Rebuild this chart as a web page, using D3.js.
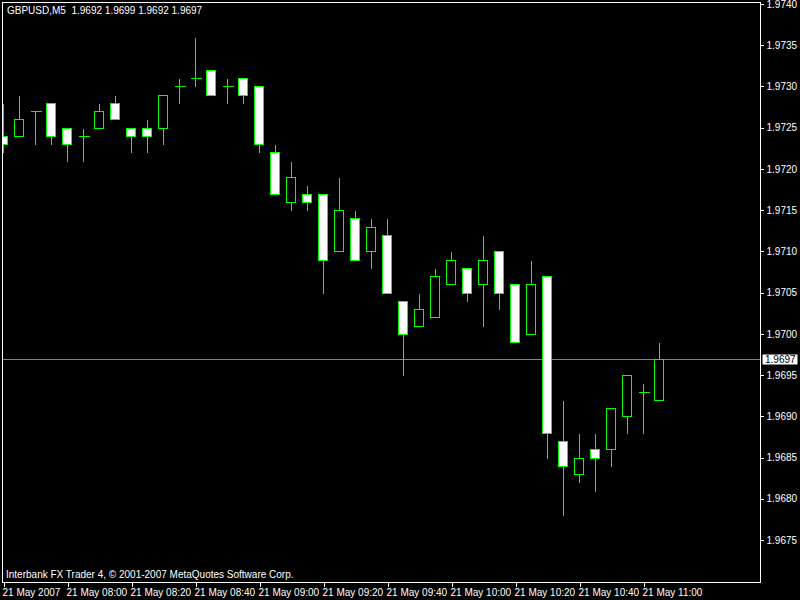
<!DOCTYPE html>
<html lang="en">
<head>
    <meta charset="UTF-8">
    <title>GBPUSD,M5</title>
    <script src="https://d3js.org/d3.v7.min.js"></script>
</head>
<style type="text/css">
    body { margin: 0; background: #000; }
    svg { display: block; }
    text { font-family: "Liberation Sans", Arial, sans-serif; font-size: 10px; fill: #fff; }
    .axis path.domain { display: none; }
    .axis line { stroke: #fff; shape-rendering: crispEdges; }
    .wick { stroke: #00ff00; stroke-width: 1; shape-rendering: crispEdges; }
    .body { stroke: #00ff00; stroke-width: 1; shape-rendering: crispEdges; }
</style>
<body>
<script>

    // 1. Data: 5 minute bars, 07:40 .. 11:05
    var opens  = [1.9724, 1.9724, 1.9727, 1.9728, 1.9725, 1.9724, 1.9725, 1.9728, 1.9725, 1.9725,
                  1.9725, 1.9730, 1.9731, 1.9732, 1.9730, 1.9731, 1.9730, 1.9722, 1.9716, 1.9717,
                  1.9717, 1.9710, 1.9714, 1.9710, 1.9712, 1.9704, 1.9701, 1.9702, 1.9706, 1.9708,
                  1.9706, 1.9710, 1.9706, 1.9700, 1.9707, 1.9687, 1.9683, 1.9686, 1.9686, 1.9690,
                  1.9693, 1.9692];
    var highs  = [1.9728, 1.9729, 1.9727, 1.9728, 1.9725, 1.9725, 1.9728, 1.9729, 1.9725, 1.9726,
                  1.9729, 1.9731, 1.9736, 1.9732, 1.9731, 1.9731, 1.9730, 1.9723, 1.9721, 1.9718,
                  1.9717, 1.9719, 1.9715, 1.9714, 1.9714, 1.9704, 1.9705, 1.9708, 1.9710, 1.9708,
                  1.9712, 1.9710, 1.9706, 1.9709, 1.9707, 1.9692, 1.9688, 1.9688, 1.9691, 1.9695,
                  1.9694, 1.9699];
    var lows   = [1.9722, 1.9724, 1.9723, 1.9723, 1.9721, 1.9721, 1.9725, 1.9726, 1.9722, 1.9722,
                  1.9723, 1.9728, 1.9730, 1.9729, 1.9728, 1.9728, 1.9722, 1.9717, 1.9715, 1.9715,
                  1.9705, 1.9710, 1.9709, 1.9708, 1.9705, 1.9695, 1.9701, 1.9702, 1.9706, 1.9704,
                  1.9701, 1.9703, 1.9699, 1.9700, 1.9685, 1.9678, 1.9682, 1.9681, 1.9684, 1.9688,
                  1.9688, 1.9692];
    var closes = [1.9723, 1.9726, 1.9727, 1.9724, 1.9723, 1.9724, 1.9727, 1.9726, 1.9724, 1.9724,
                  1.9729, 1.9730, 1.9731, 1.9729, 1.9730, 1.9729, 1.9723, 1.9717, 1.9719, 1.9716,
                  1.9709, 1.9715, 1.9709, 1.9713, 1.9705, 1.9700, 1.9703, 1.9707, 1.9709, 1.9705,
                  1.9709, 1.9705, 1.9699, 1.9706, 1.9688, 1.9684, 1.9685, 1.9685, 1.9691, 1.9695,
                  1.9693, 1.9697];

    // tick labels every 4 bars (20 min)
    var timeTicks  = [0, 4, 8, 12, 16, 20, 24, 28, 32, 36, 40];
    var timeLabels = ["21 May 2007", "21 May 08:00", "21 May 08:20", "21 May 08:40", "21 May 09:00",
                      "21 May 09:20", "21 May 09:40", "21 May 10:00", "21 May 10:20", "21 May 10:40",
                      "21 May 11:00"];
    var priceTicks = [1.9675, 1.9680, 1.9685, 1.9690, 1.9695, 1.9700, 1.9705, 1.9710,
                      1.9715, 1.9720, 1.9725, 1.9730, 1.9735, 1.9740];
    var bid = 1.9697;
    var title = "GBPUSD,M5  1.9692 1.9699 1.9692 1.9697";
    var footer = "Interbank FX Trader 4, \u00a9 2001-2007 MetaQuotes Software Corp.";

    var bars = opens.map(function(o, i) {
        return { i: i, o: o, h: highs[i], l: lows[i], c: closes[i] };
    });

    // 2. Layout
    var width = 800, height = 600;
    var plot = { left: 2.5, top: 2.5, right: 760.5, bottom: 582.5 };

    var svg = d3.select("body").append("svg")
        .attr("width", width)
        .attr("height", height);

    svg.append("rect")
        .attr("width", width).attr("height", height)
        .attr("fill", "#000");

    // 3. Scales
    var xScale = d3.scaleLinear()
        .domain([0, 41])
        .range([3.5, 659.5]);

    var yScale = d3.scaleLinear()
        .domain([1.9675, 1.9740])
        .range([540, 4]);

    function py(v) { return Math.round(yScale(v)) + 0.5; }

    svg.append("clipPath").attr("id", "clip")
      .append("rect")
        .attr("x", plot.left + 0.5).attr("y", plot.top + 0.5)
        .attr("width", plot.right - plot.left - 1)
        .attr("height", plot.bottom - plot.top - 1);

    var chart = svg.append("g").attr("clip-path", "url(#clip)");

    // 4. Bid line
    chart.append("line")
        .attr("x1", plot.left).attr("x2", plot.right)
        .attr("y1", py(bid)).attr("y2", py(bid))
        .attr("stroke", "#778899")
        .attr("shape-rendering", "crispEdges");

    // 5. Candles
    var candle = chart.selectAll(".candle")
        .data(bars)
      .enter().append("g")
        .attr("class", "candle");

    candle.append("line")
        .attr("class", "wick")
        .attr("x1", function(d) { return xScale(d.i); })
        .attr("x2", function(d) { return xScale(d.i); })
        .attr("y1", function(d) { return py(d.h); })
        .attr("y2", function(d) { return py(d.l) + 0.5; });

    // doji -> horizontal dash, else box (bear white, bull black)
    candle.filter(function(d) { return d.o === d.c; })
      .append("line")
        .attr("class", "wick")
        .attr("x1", function(d) { return xScale(d.i) - 5; })
        .attr("x2", function(d) { return xScale(d.i) + 6; })
        .attr("y1", function(d) { return py(d.o); })
        .attr("y2", function(d) { return py(d.o); });

    candle.filter(function(d) { return d.o !== d.c; })
      .append("rect")
        .attr("class", "body")
        .attr("x", function(d) { return xScale(d.i) - 5; })
        .attr("width", 9)
        .attr("y", function(d) { return py(Math.max(d.o, d.c)); })
        .attr("height", function(d) { return py(Math.min(d.o, d.c)) - py(Math.max(d.o, d.c)); })
        .attr("fill", function(d) { return d.c < d.o ? "#fff" : "#000"; });

    // 6. Frame
    svg.append("rect")
        .attr("x", plot.left).attr("y", plot.top)
        .attr("width", plot.right - plot.left)
        .attr("height", plot.bottom - plot.top)
        .attr("fill", "none")
        .attr("stroke", "#fff")
        .attr("shape-rendering", "crispEdges");

    // 7. Price axis on the right
    var yAxis = svg.append("g")
        .attr("class", "axis")
        .attr("transform", "translate(" + plot.right + ",0)")
        .call(d3.axisRight(yScale)
            .tickValues(priceTicks)
            .tickFormat(d3.format(".4f"))
            .tickSize(3)
            .tickPadding(3));
    yAxis.selectAll("text").attr("fill", "#fff");

    // 8. Time axis at the bottom
    var xAxis = svg.append("g")
        .attr("class", "axis")
        .attr("transform", "translate(0," + plot.bottom + ")")
        .call(d3.axisBottom(xScale)
            .tickValues(timeTicks)
            .tickFormat(function(d, i) { return timeLabels[i]; })
            .tickSize(4)
            .tickPadding(2));
    xAxis.selectAll("text")
        .attr("fill", "#fff")
        .attr("text-anchor", "start")
        .attr("x", -1.5);

    // 9. Bid label box
    svg.append("rect")
        .attr("x", 762.5).attr("y", py(bid) - 5)
        .attr("width", 35).attr("height", 10)
        .attr("fill", "#fff");
    svg.append("text")
        .attr("x", 765).attr("y", py(bid))
        .attr("dy", "0.35em")
        .style("fill", "#000")
        .text(d3.format(".4f")(bid));

    // 10. Header and footer text
    svg.append("text")
        .attr("x", 7).attr("y", 14)
        .attr("xml:space", "preserve")
        .style("white-space", "pre")
        .text(title);

    svg.append("text")
        .attr("x", 6).attr("y", 578)
        .text(footer);

</script>
</body>
</html>
